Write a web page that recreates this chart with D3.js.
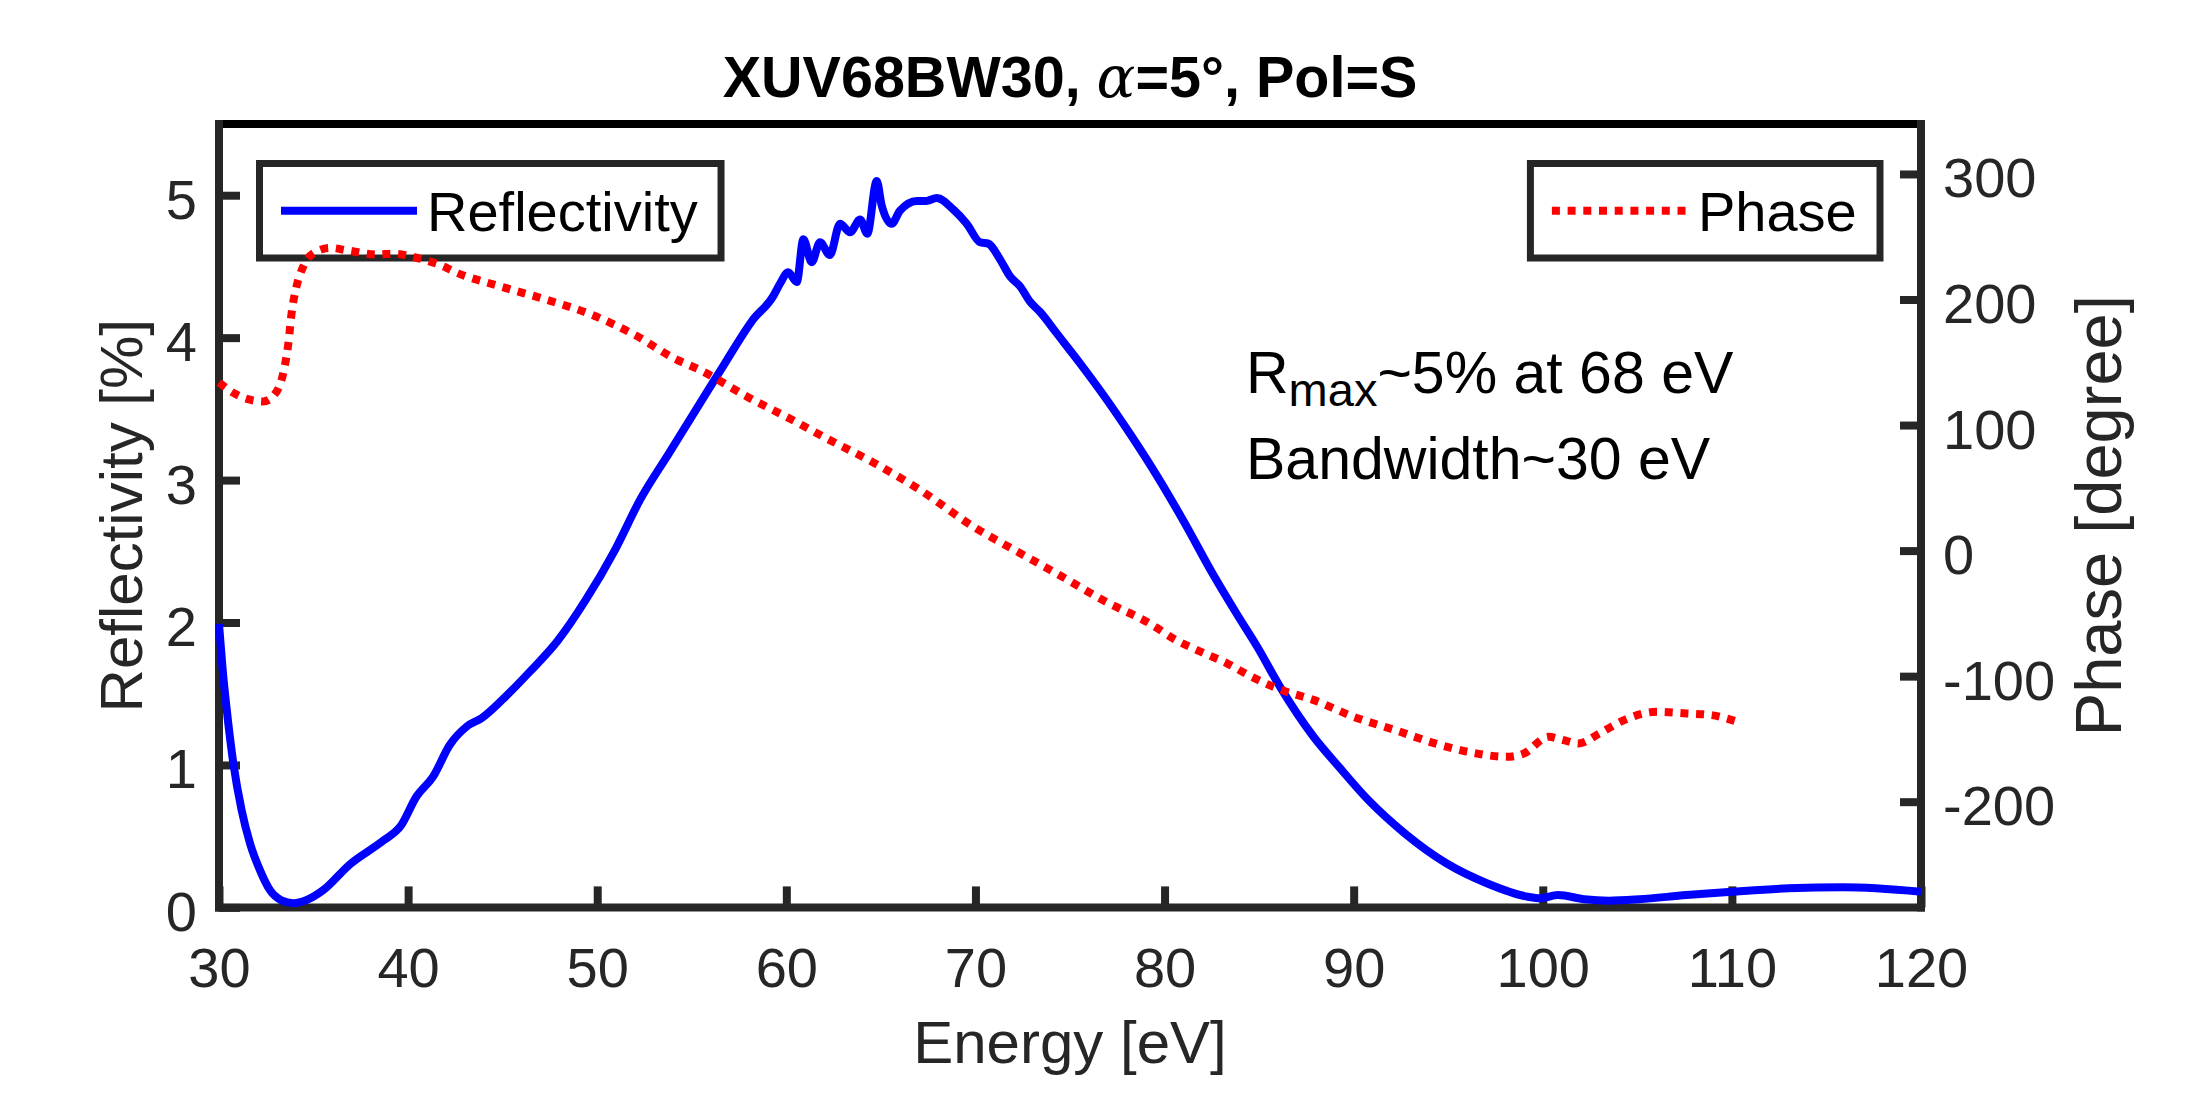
<!DOCTYPE html>
<html>
<head>
<meta charset="utf-8">
<script src="https://cdn.jsdelivr.net/npm/d3@7"></script>
<style>
  html, body { margin: 0; padding: 0; background: #fff; }
  svg { display: block; }
</style>
</head>
<body>
<svg id="chart" width="2187" height="1094"></svg>
<script>
// ---------------- data ----------------
const reflEnergy = [30.0,30.2,30.4,30.76,31.2,31.64,32.17,32.7,33.3,33.93,34.6,35.5,36.9,38.7,39.6,40.45,41.33,42.2,43.1,43.9,45.0,46.4,47.9,49.4,50.9,52.3,53.8,55.3,56.8,58.2,59.3,59.67,60.1,60.55,60.9,61.34,61.78,62.3,62.84,63.37,63.9,64.28,64.78,65.04,65.57,66.0,66.9,67.4,67.95,68.83,69.54,70.24,70.68,71.3,71.83,72.36,72.9,73.42,74.3,75.53,76.7,78.2,79.6,81.1,82.47,83.82,84.9,86.1,87.87,89.2,90.8,92.7,94.9,97.04,99.2,99.87,100.8,102.2,103.5,105.1,107.6,110.0,113.0,115.9,120.0];
const reflValues = [1.99,1.66,1.40,1.01,0.68,0.45,0.26,0.12,0.05,0.03,0.05,0.12,0.30,0.47,0.57,0.78,0.92,1.14,1.27,1.33,1.46,1.65,1.87,2.16,2.50,2.87,3.19,3.51,3.83,4.12,4.29,4.38,4.46,4.39,4.69,4.53,4.67,4.58,4.80,4.74,4.83,4.73,5.10,4.93,4.80,4.89,4.96,4.96,4.98,4.90,4.80,4.67,4.66,4.55,4.43,4.36,4.25,4.18,4.03,3.82,3.61,3.32,3.03,2.69,2.36,2.06,1.83,1.55,1.20,0.99,0.75,0.52,0.31,0.17,0.075,0.064,0.087,0.057,0.047,0.057,0.087,0.11,0.134,0.141,0.11];

const phaseEnergy = [30.0,30.76,31.64,32.34,33.05,33.4,33.67,33.84,34.1,34.46,35.16,35.87,36.75,38.34,39.22,40.1,40.8,41.86,42.4,44.86,47.3,49.6,51.9,54.2,55.4,58.0,60.2,62.3,64.5,67.0,70.0,72.0,74.5,76.8,79.2,80.6,81.9,83.3,84.6,86.2,87.9,90.0,92.2,94.3,96.5,98.1,99.0,100.3,101.1,101.9,103.0,104.3,106.0,107.6,108.9,110.3];
const phaseValues = [134,125.6,120.2,118.8,126.8,141.5,165.4,189.3,210.5,226.5,238.4,241.1,239.2,235.8,236.6,234.5,231.8,226.5,222.5,210.5,199.9,188.5,172.5,152.1,144.1,122,105,88,71,49,18,1,-20,-40,-57.9,-71.2,-80.5,-89.8,-100.5,-111.1,-119.1,-132.4,-143,-153.6,-161.6,-164.3,-161.6,-148.3,-151,-153.6,-145.6,-135,-128.4,-129.7,-131,-136.4];

const xTicks = [30,40,50,60,70,80,90,100,110,120];
const yLeftTicks = [0,1,2,3,4,5];
const yRightTicks = [-200,-100,0,100,200,300];

const xDomain = [30,120];
const yLeftDomain = [0,5.5];
const yRightDomain = [-284.2,339.8];

const titleParts = ["XUV68BW30, ", "\u03B1", "=5\u00B0, Pol=S"];
const legendLabels = ["Reflectivity", "Phase"];
const xLabel = "Energy [eV]";
const yLeftLabel = "Reflectivity [%]";
const yRightLabel = "Phase [degree]";
const noteLine1 = ["R", "max", "~5% at 68 eV"];
const noteLine2 = "Bandwidth~30 eV";

// ---------------- layout ----------------
const L = 219, R = 1921, T = 124, B = 907.4;
const axisColor = "#262626";
const font = "'Liberation Sans', Arial, Helvetica, sans-serif";
const svg = d3.select("#chart");
const fmt = d => String(d);

const x = d3.scaleLinear().domain(xDomain).range([L, R]);
const yL = d3.scaleLinear().domain(yLeftDomain).range([B, T]);
const yR = d3.scaleLinear().domain(yRightDomain).range([B, T]);

// ---------------- axes ----------------
function styleAxis(g) {
  g.select(".domain").remove();
  g.selectAll(".tick line").attr("stroke", axisColor).attr("stroke-width", 8);
  g.selectAll(".tick text").attr("fill", axisColor).attr("font-size", 56).attr("font-family", font);
}

const gx = svg.append("g").attr("transform", `translate(0,${B})`)
  .call(d3.axisBottom(x).tickValues(xTicks).tickFormat(fmt).tickSizeInner(-21).tickSizeOuter(0).tickPadding(0));
styleAxis(gx);
gx.selectAll(".tick text").attr("y", 80).attr("dy", null);

const gyl = svg.append("g").attr("transform", `translate(${L},0)`)
  .call(d3.axisLeft(yL).tickValues(yLeftTicks).tickFormat(fmt).tickSizeInner(-21).tickSizeOuter(0).tickPadding(22));
styleAxis(gyl);
gyl.selectAll(".tick text").attr("dy", "0.41em");

const gyr = svg.append("g").attr("transform", `translate(${R},0)`)
  .call(d3.axisRight(yR).tickValues(yRightTicks).tickFormat(fmt).tickSizeInner(-21).tickSizeOuter(0).tickPadding(22));
styleAxis(gyr);
gyr.selectAll(".tick text").attr("dy", "0.41em");

// box lines
const box = svg.append("g").attr("stroke-width", 8).attr("stroke-linecap", "square");
box.append("line").attr("x1", L).attr("x2", R).attr("y1", T).attr("y2", T).attr("stroke", "#000");
box.append("line").attr("x1", L).attr("x2", R).attr("y1", B).attr("y2", B).attr("stroke", axisColor);
box.append("line").attr("x1", L).attr("x2", L).attr("y1", T).attr("y2", B).attr("stroke", axisColor);
box.append("line").attr("x1", R).attr("x2", R).attr("y1", T).attr("y2", B).attr("stroke", axisColor);

// axis labels
svg.append("text").attr("x", (L + R) / 2).attr("y", 1063).attr("text-anchor", "middle")
  .attr("font-family", font).attr("font-size", 60).attr("fill", axisColor).text(xLabel);
svg.append("text").attr("transform", `translate(142,${(T + B) / 2}) rotate(-90)`).attr("text-anchor", "middle")
  .attr("font-family", font).attr("font-size", 60).attr("fill", axisColor).text(yLeftLabel);
svg.append("text").attr("transform", `translate(2121,${(T + B) / 2}) rotate(-90)`).attr("text-anchor", "middle")
  .attr("font-family", font).attr("font-size", 65).attr("fill", axisColor).text(yRightLabel);

// title
const title = svg.append("text").attr("x", (L + R) / 2).attr("y", 97).attr("text-anchor", "middle")
  .attr("font-family", font).attr("font-size", 57.5).attr("font-weight", "bold").attr("fill", "#000");
title.append("tspan").text(titleParts[0]);
title.append("tspan").attr("font-family", "'DejaVu Serif', serif").attr("font-style", "italic").attr("font-weight", "normal").text(titleParts[1]);
title.append("tspan").text(titleParts[2]);

// ---------------- series ----------------
const reflData = reflEnergy.map((e, i) => [e, reflValues[i]]);
const phaseData = phaseEnergy.map((e, i) => [e, phaseValues[i]]);

const lineL = d3.line().x(d => x(d[0])).y(d => yL(d[1])).curve(d3.curveMonotoneX);
const lineR = d3.line().x(d => x(d[0])).y(d => yR(d[1])).curve(d3.curveMonotoneX);

svg.append("path").datum(reflData).attr("d", lineL)
  .attr("fill", "none").attr("stroke", "#0000ff").attr("stroke-width", 8)
  .attr("stroke-linejoin", "miter").attr("stroke-miterlimit", 4);

// legend builder
function legend(opts) {
  const g = svg.append("g");
  const rect = g.append("rect").attr("fill", "#fff").attr("stroke", axisColor).attr("stroke-width", 7);
  const txt = g.append("text").attr("font-family", font).attr("font-size", 56).attr("fill", "#000").text(opts.label);
  const tw = txt.node().getComputedTextLength();
  const padL = 21.5, lineLen = 136, gap = 10, padR = 23.3;
  const w = padL + lineLen + gap + tw + padR;
  const left = opts.left !== undefined ? opts.left : opts.right - w;
  const top = 163.5, h = 94.5, cy = top + h / 2;
  rect.attr("x", left).attr("y", top).attr("width", w).attr("height", h);
  const ln = g.append("line").attr("x1", left + padL).attr("x2", left + padL + lineLen)
    .attr("y1", cy).attr("y2", cy).attr("stroke", opts.color).attr("stroke-width", 8);
  if (opts.dash) ln.attr("stroke-dasharray", opts.dash);
  txt.attr("x", left + padL + lineLen + gap).attr("y", cy + 20);
  txt.raise();
}

legend({ label: legendLabels[0], color: "#0000ff", left: 259.5 });

svg.append("path").datum(phaseData).attr("d", lineR)
  .attr("fill", "none").attr("stroke", "#ff0000").attr("stroke-width", 8)
  .attr("stroke-dasharray", "8 7.7");

legend({ label: legendLabels[1], color: "#ff0000", right: 1880, dash: "8 7.7" });

// annotations
const a1 = svg.append("text").attr("x", 1246).attr("y", 393)
  .attr("font-family", font).attr("font-size", 59).attr("fill", "#000");
a1.append("tspan").text(noteLine1[0]);
a1.append("tspan").attr("font-size", 47).attr("dy", 13).text(noteLine1[1]);
a1.append("tspan").attr("dy", -13).text(noteLine1[2]);
svg.append("text").attr("x", 1246).attr("y", 479)
  .attr("font-family", font).attr("font-size", 59).attr("fill", "#000").text(noteLine2);
</script>
</body>
</html>
